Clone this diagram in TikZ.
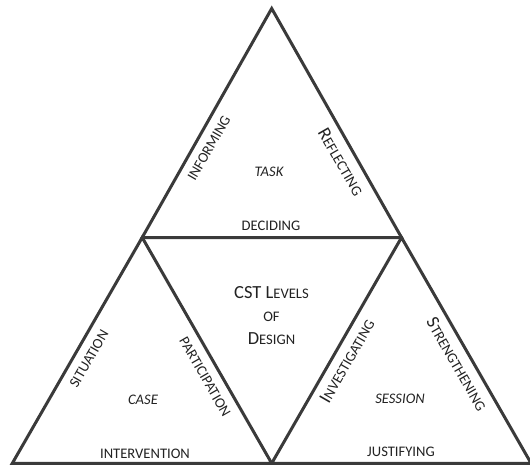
\documentclass[tikz,border=0pt]{standalone}
\usepackage{fontspec}
\setmainfont{Carlito}
\definecolor{edgegray}{HTML}{3A3A3A}
\definecolor{inkgray}{HTML}{222222}
% faked small capitals: capitals at a reduced size
\newcommand\smc[1]{{\fontsize{14.6}{16}\selectfont #1}}
\begin{document}
\begin{tikzpicture}[x=1pt,y=-1pt,
  tri/.style={draw=edgegray,line width=3pt,line join=miter},
  lbl/.style={text=inkgray,inner sep=0pt,font=\fontsize{18.5}{22}\selectfont},
  lvl/.style={lbl,font=\fontsize{18.5}{22}\selectfont\itshape}]
\useasboundingbox (0,0) rectangle (530,466);

% corner points of the three outer triangles
\coordinate (apex) at (271.7,8.5);
\coordinate (ml)   at (142.2,237.5);
\coordinate (mr)   at (401.5,237.5);
\coordinate (bl)   at (12.3,463.3);
\coordinate (bm)   at (271.7,463.3);
\coordinate (br)   at (531.1,463.3);

\draw[tri] (apex) -- (mr) -- (ml) -- cycle;
\draw[tri] (ml) -- (bm) -- (bl) -- cycle;
\draw[tri] (mr) -- (br) -- (bm) -- cycle;

% centre
\node[lbl,align=center] (title) at (271.5,316)
  {CST L\smc{EVELS}\\[1pt] \smc{OF}\\[1pt] D\smc{ESIGN}};

% top triangle
\node[lbl,rotate=60]  (inform)  at (209,148) {\smc{INFORMING}};
\node[lbl,rotate=-60] (reflect) at (341,162) {R\smc{EFLECTING}};
\node[lvl]            (task)    at (269,172) {\smc{TASK}};
\node[lbl]            (decide)  at (271,226) {\smc{DECIDING}};

% left triangle
\node[lbl,rotate=60]  (situ)    at (89,359)  {\smc{SITUATION}};
\node[lbl,rotate=-60] (partic)  at (205,377) {\smc{PARTICIPATION}};
\node[lvl]            (case)    at (143,400) {\smc{CASE}};
\node[lbl]            (interv)  at (145,454) {\smc{INTERVENTION}};

% right triangle
\node[lbl,rotate=60]  (invest)  at (347,361) {I\smc{NVESTIGATING}};
\node[lbl,rotate=-60] (strength) at (457,364) {S\smc{TRENGTHENING}};
\node[lvl]            (session) at (400,399) {\smc{SESSION}};
\node[lbl]            (justify) at (401,452) {\smc{JUSTIFYING}};
\end{tikzpicture}
\end{document}
